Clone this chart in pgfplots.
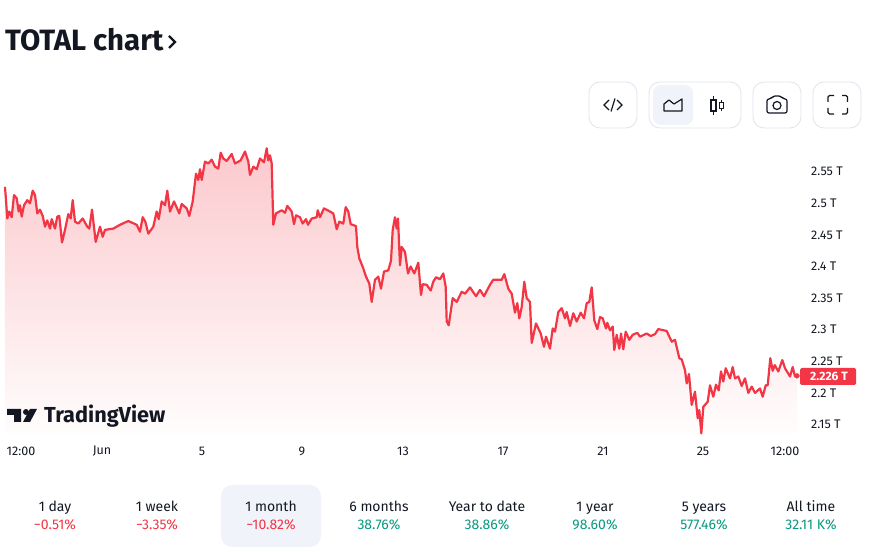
\documentclass[border=0pt]{standalone}
\usepackage{pgfplots}
\usepackage{pgfplotstable}
\usepackage{fontspec}
\setmainfont{Fira Sans}
\pgfplotsset{compat=1.18}
\definecolor{ink}{HTML}{131722}
\definecolor{tvred}{HTML}{F23645}
\definecolor{tvgreen}{HTML}{089981}
\definecolor{panel}{HTML}{F0F3FA}
\definecolor{edge}{HTML}{E0E3EB}
\pgfplotstableread{
x y
5 2.525
6 2.504
7.3 2.475
9.3 2.486
11.7 2.477
14 2.512
16.7 2.507
18.7 2.486
20 2.496
21.7 2.478
24 2.496
27.3 2.504
30 2.499
32.7 2.519
35 2.512
37.3 2.483
40 2.489
42.7 2.479
45 2.462
47.3 2.472
50 2.459
51.7 2.474
55 2.459
57.3 2.478
59.3 2.479
62 2.437
65 2.457
68.3 2.482
70.7 2.475
72.7 2.504
75 2.470
78.3 2.467
82.7 2.475
87.3 2.462
89.3 2.459
92 2.489
95.7 2.438
100 2.462
102.7 2.446
105 2.457
113.3 2.459
120 2.465
128.3 2.471
136.7 2.465
140 2.454
142.7 2.477
145.3 2.470
148.3 2.451
153.3 2.462
156.7 2.486
158.7 2.474
161.7 2.502
165 2.496
167.3 2.519
170 2.486
174 2.502
179.3 2.483
181.7 2.498
186.7 2.491
189.3 2.479
192.7 2.502
196 2.546
198.3 2.536
200 2.553
201.7 2.536
205 2.565
208.3 2.562
211.7 2.568
215 2.557
218.3 2.554
220.7 2.579
223.3 2.570
226.7 2.566
231.7 2.577
235 2.562
240.7 2.567
245 2.581
248.3 2.565
250 2.544
253.3 2.557
256.7 2.553
260 2.570
264 2.564
266.7 2.586
268.3 2.567
270 2.575
271.7 2.562
273.3 2.465
276 2.483
281.7 2.488
285 2.484
287.3 2.495
291.7 2.486
294 2.466
296 2.480
300 2.477
302.7 2.467
306 2.474
308 2.465
311.7 2.475
316.7 2.477
317.7 2.488
320 2.477
324 2.491
330 2.486
333.3 2.483
336.7 2.458
339.3 2.470
343.3 2.467
345.7 2.493
348.3 2.486
350.7 2.466
356 2.463
357.3 2.430
359.3 2.412
363.3 2.396
366 2.383
369.3 2.372
371.7 2.343
375 2.378
378.3 2.383
381 2.364
384 2.391
388.3 2.393
391 2.408
392.7 2.457
395 2.477
396.7 2.459
398 2.475
400 2.401
401.7 2.430
405 2.422
408 2.388
410.7 2.399
414.3 2.388
418.3 2.405
421 2.354
422.7 2.371
426.7 2.370
430.7 2.361
433.3 2.375
436 2.382
440 2.379
443.3 2.388
445.7 2.367
446.7 2.312
448.7 2.306
452.7 2.349
456.7 2.343
461.7 2.359
465 2.356
470 2.366
476 2.352
480 2.362
484 2.352
487.3 2.362
490.7 2.372
493.3 2.378
501.7 2.378
504.3 2.387
508.3 2.364
511.7 2.356
515 2.326
517.3 2.341
519.3 2.317
521.7 2.335
524.3 2.375
526.7 2.349
530 2.343
531.7 2.278
536 2.309
540.7 2.293
544 2.272
546 2.288
550 2.269
552.7 2.301
555 2.296
558.3 2.327
561.7 2.333
565 2.317
566.7 2.327
570 2.305
573.3 2.325
576.7 2.312
580.7 2.326
584 2.317
586.7 2.341
589.3 2.343
591.7 2.366
594.3 2.314
597.3 2.300
600 2.319
602.7 2.317
606 2.301
607.3 2.310
610 2.298
612.7 2.304
614.3 2.267
616.7 2.291
619.3 2.269
621 2.293
623.3 2.268
625.7 2.296
629.3 2.283
632.7 2.291
637.3 2.294
640 2.288
646.7 2.293
650.7 2.289
655 2.292
658.3 2.300
666.7 2.297
671.7 2.280
675 2.283
679.3 2.254
681.7 2.252
685 2.235
686.7 2.214
689 2.229
691.7 2.180
695 2.201
697.7 2.159
699.3 2.172
701.3 2.135
703.3 2.177
707.7 2.185
710 2.211
713.3 2.193
716 2.212
718.7 2.203
721 2.233
723.3 2.217
725.7 2.238
730 2.222
732.7 2.240
735 2.222
738.3 2.225
741.7 2.210
745 2.222
748.3 2.199
751.7 2.209
755 2.199
760 2.206
762.7 2.193
765.7 2.211
767.7 2.211
770.3 2.254
772.7 2.234
774.7 2.243
778.3 2.233
782.3 2.251
785 2.238
790 2.225
792.7 2.240
795 2.225
797 2.226
}\total
\begin{document}
\begin{tikzpicture}
\begin{scope}[x=1pt,y=-1pt,shift={(0pt,552pt)}]
\useasboundingbox (0,0) rectangle (871,552);
\end{scope}
% chart
\begin{axis}[
  at={(5pt,118pt)},anchor=south west,
  scale only axis,width=792pt,height=288.2pt,
  xmin=5,xmax=797,ymin=2.134,ymax=2.59,
  clip=false,
  axis line style={draw=none},
  major tick length=0pt,
  axis y line*=right,
  axis x line*=bottom,
  ytick={2.15,2.2,2.25,2.3,2.35,2.4,2.45,2.5,2.55},
  yticklabels={2.15 T,2.2 T,2.25 T,2.3 T,2.35 T,2.4 T,2.45 T,2.5 T,2.55 T},
  xtick={21,102,202,302,403,503,603,703,785},
  xticklabels={12:00,Jun,5,9,13,17,21,25,12:00},
  tick label style={font=\fontsize{12.5}{12.5}\selectfont,text=ink},
  yticklabel style={anchor=west,inner sep=0pt,xshift=14pt,yshift=-0.5pt},
  xticklabel style={anchor=center,inner sep=0pt,yshift=-17pt},
]
\addplot[draw=none,top color=tvred!27!white,bottom color=tvred!1!white,shading angle=0] table[x=x,y=y] {\total} \closedcycle;
\addplot[tvred,line width=2.2pt,line join=round] table[x=x,y=y] {\total};
\addplot[only marks,mark=*,mark size=2.4pt,tvred] coordinates {(797,2.226)};
\end{axis}
\begin{scope}[x=1pt,y=-1pt,shift={(0pt,552pt)}]
% title
\node[anchor=west,inner sep=0,font=\fontsize{29.4}{29.4}\selectfont\bfseries,text=ink] at (5,40) {TOTAL chart};
\draw[ink,line width=2.4pt] (169,36) -- (175,42) -- (169,48);
% buttons
\draw[edge,line width=.8pt,rounded corners=11pt] (589,82) rectangle (637,128);
\draw[edge,line width=.8pt,rounded corners=11pt] (649,82) rectangle (741,128);
\fill[panel,rounded corners=8pt] (653,85) rectangle (693,125);
\draw[edge,line width=.8pt,rounded corners=11pt] (753,82) rectangle (801,128);
\draw[edge,line width=.8pt,rounded corners=11pt] (813,82) rectangle (861,128);
\begin{scope}[ink,line width=1.2pt]
\draw (609,100) -- (604,105) -- (609,110);
\draw (617,100) -- (622,105) -- (617,110);
\draw (615,98.5) -- (611,111.5);
\draw[line join=round] (664,104) -- (669,100) -- (674,104) -- (682,99) -- (682,111) -- (664,111) -- cycle;
\draw (713.5,96) -- (713.5,115);
\fill[white] (711,100) rectangle (716,111);
\draw (711,100) rectangle (716,111);
\draw (721.5,100) -- (721.5,111);
\fill[white] (719.5,102.5) rectangle (723.5,108.5);
\draw (719.5,102.5) rectangle (723.5,108.5);
\draw[rounded corners=2pt] (767,99) -- (771,99) -- (773,96) -- (781,96) -- (783,99) -- (787,99) -- (787,113) -- (767,113) -- cycle;
\draw (777,105.5) circle (4pt);
\draw[rounded corners=1.5pt] (828,102) -- (828,95.5) -- (834,95.5);
\draw[rounded corners=1.5pt] (842,95.5) -- (847.5,95.5) -- (847.5,102);
\draw[rounded corners=1.5pt] (828,108) -- (828,114) -- (834,114);
\draw[rounded corners=1.5pt] (842,114) -- (847.5,114) -- (847.5,108);
\end{scope}
% price label
\fill[tvred,rounded corners=1.5pt] (800,368) rectangle (856,385);
\node[text=white,font=\fontsize{12}{12}\selectfont\bfseries,inner sep=0] at (829,376.5) {2.226 T};
% logo
\fill[ink] (7,409) -- (21,409) -- (21,422) -- (14,422) -- (14,415) -- (7,415) -- cycle;
\fill[ink] (26,412) circle (3pt);
\fill[ink] (30,409) -- (37,409) -- (30,422) -- (23,422) -- cycle;
\node[anchor=west,inner sep=0,font=\fontsize{21.7}{21.7}\selectfont\bfseries,text=ink] at (44,416) {TradingView};
% tabs
\fill[panel,rounded corners=11pt] (221,485) rectangle (321,547);
\foreach \cx/\a/\b/\c in {55/1 day/{−0.51\%}/tvred,157/1 week/{−3.35\%}/tvred,271/1 month/{−10.82\%}/tvred,379/6 months/{38.76\%}/tvgreen,487/Year to date/{38.86\%}/tvgreen,595/1 year/{98.60\%}/tvgreen,704/5 years/{577.46\%}/tvgreen,811/All time/{32.11 K\%}/tvgreen}{
  \node[anchor=base,font=\fontsize{14}{14}\selectfont,text=ink,inner sep=0] at (\cx,512) {\a};
  \node[anchor=base,font=\fontsize{14}{14}\selectfont,text=\c,inner sep=0] at (\cx,530) {\b};
}
\end{scope}
\end{tikzpicture}
\end{document}
